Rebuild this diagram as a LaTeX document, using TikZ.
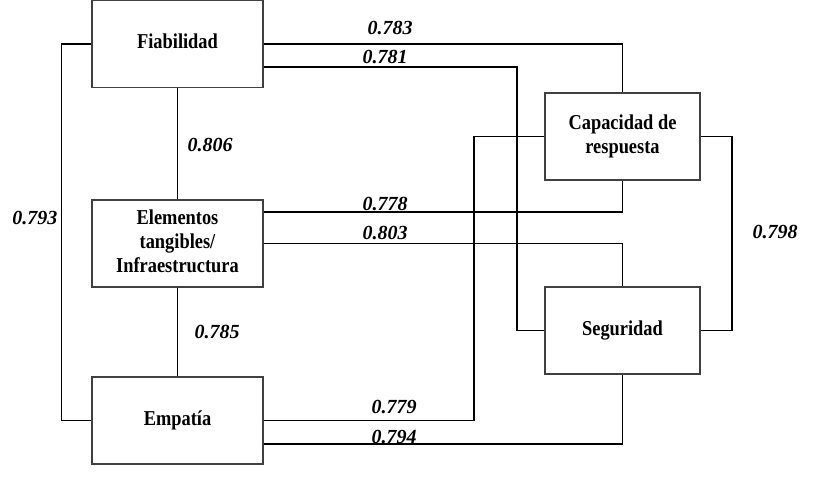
\documentclass[tikz,border=0pt]{standalone}
\usepackage{graphicx}
\usepackage{fontspec}
\setmainfont{Liberation Serif}
\newcommand\bxtext[1]{\scalebox{1}[1.15]{\begin{tabular}{@{}c@{}}#1\end{tabular}}}
\begin{document}
\begin{tikzpicture}[x=1pt,y=-1pt,
  box/.style={draw=black!75,line width=1.1pt,rectangle,inner sep=0pt,align=center,
    font=\fontsize{18.4}{21}\selectfont\bfseries},
  wide/.style={minimum width=171pt,minimum height=87pt},
  narrow/.style={minimum width=155pt,minimum height=87pt},
  conn/.style={line width=1.9pt,black},
  lbl/.style={inner sep=0pt,font=\fontsize{20}{22}\selectfont\bfseries\itshape}]
\useasboundingbox (0,0) rectangle (814,479);
\node[box,wide] (fia) at (177.5,44) {\bxtext{Fiabilidad}};
\node[box,wide] (ele) at (177.5,243.5) {\bxtext{Elementos\\tangibles/\\Infraestructura}};
\node[box,wide] (emp) at (177.5,420.5) {\bxtext{Empatía}};
\node[box,narrow] (cap) at (622.5,136.5) {\bxtext{Capacidad de\\respuesta}};
\node[box,narrow] (seg) at (622.5,330.5) {\bxtext{Seguridad}};
\draw[conn] (fia.west) -- ++(-30,0) coordinate (fl) |- (emp.west);
\draw[conn] (fia.east) -| (cap.north);
\draw[conn] ([yshift=-23pt]fia.east) -- ++(253,0) coordinate (f2) |- (seg.west);
\draw[conn] (fia.south) -- (ele.north);
\draw[conn] ([yshift=31.5pt]ele.east) -| (cap.south);
\draw[conn] (ele.east) -| (seg.north);
\draw[conn] (ele.south) -- (emp.north);
\draw[conn] (emp.east) -- ++(210,0) coordinate (e1) |- (cap.west);
\draw[conn] ([yshift=-23.5pt]emp.east) -| (seg.south);
\draw[conn] (cap.east) -- ++(31,0) coordinate (cr) |- (seg.east);
\node[lbl] (l783) at (390,28) {0.783};
\node[lbl] (l781) at (385,57) {0.781};
\node[lbl] (l778) at (385,204) {0.778};
\node[lbl] (l803) at (385,233) {0.803};
\node[lbl] (l779) at (394,407) {0.779};
\node[lbl] (l794) at (394,437) {0.794};
\node[lbl] (l806) at (210,145) {0.806};
\node[lbl] (l785) at (217,332) {0.785};
\node[lbl] (l793) at (35,218) {0.793};
\node[lbl] (l798) at (775,232) {0.798};
\end{tikzpicture}
\end{document}
